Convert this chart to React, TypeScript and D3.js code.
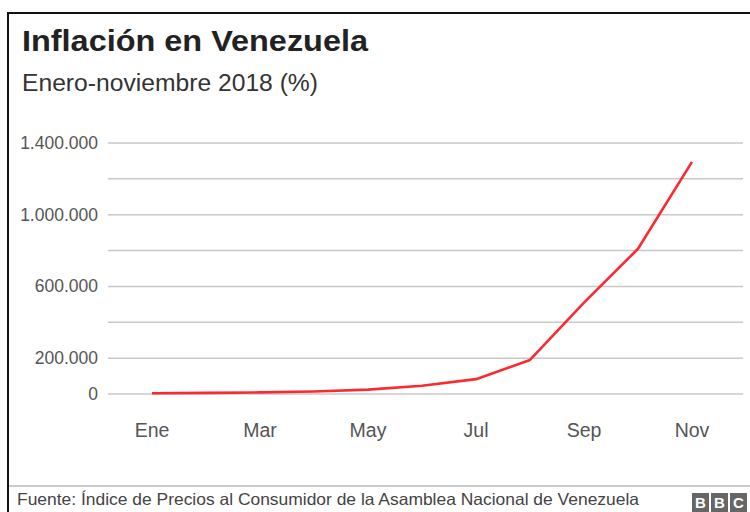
import React from "react";
import * as d3 from "d3";

const months = ["Ene", "Feb", "Mar", "Abr", "May", "Jun", "Jul", "Ago", "Sep", "Oct", "Nov"];
const inflation = [4068, 6147, 8878, 13779, 24571, 46305, 82766, 190000, 510000, 810000, 1295000];
const tickLabels = ["Ene", "Mar", "May", "Jul", "Sep", "Nov"];
const yGrid = [0, 200000, 400000, 600000, 800000, 1000000, 1200000, 1400000];
const yLabeled = [0, 200000, 600000, 1000000, 1400000];

const title = "Inflación en Venezuela";
const subtitle = "Enero-noviembre 2018 (%)";
const source = "Fuente: Índice de Precios al Consumidor de la Asamblea Nacional de Venezuela";

const W = 750;
const H = 512;
const FONT = "'Liberation Sans', Arial, Helvetica, sans-serif";

export default function App() {
  const x = d3.scalePoint<string>().domain(months).range([152, 692]);
  const y = d3.scaleLinear().domain([0, 1400000]).range([394, 143]);
  const fmt = (v: number) => d3.format(",")(v).replace(/,/g, ".");
  const line = d3
    .line<number>()
    .x((_, i) => x(months[i]) as number)
    .y((d) => y(d));

  return (
    <div style={{ position: "absolute", left: 0, top: 0, width: W, height: H, background: "#fff" }}>
      <svg width={W} height={H} style={{ display: "block", fontFamily: FONT }}>
        <rect x={0} y={0} width={W} height={H} fill="#fff" />
        {/* frame */}
        <line x1={8} x2={W} y1={13} y2={13} stroke="#111" strokeWidth={2} />
        <line x1={8} x2={8} y1={12} y2={H} stroke="#111" strokeWidth={2} />

        <text x={22} y={51} fontSize={30} fontWeight="bold" fill="#222" textLength={346} lengthAdjust="spacingAndGlyphs">
          {title}
        </text>
        <text x={22} y={91} fontSize={23} fill="#333" textLength={296} lengthAdjust="spacingAndGlyphs">
          {subtitle}
        </text>

        {/* grid */}
        {yGrid.map((v) => (
          <line key={v} x1={108} x2={743} y1={y(v)} y2={y(v)} stroke="#c8c8c8" strokeWidth={1.5} />
        ))}
        {yLabeled.map((v) => (
          <text key={v} x={98} y={y(v) + 6} fontSize={17.5} fill="#555" textAnchor="end">
            {fmt(v)}
          </text>
        ))}
        {tickLabels.map((m) => (
          <text key={m} x={x(m)} y={437} fontSize={19.5} fill="#555" textAnchor="middle">
            {m}
          </text>
        ))}

        <path d={line(inflation) || ""} fill="none" stroke="#fa2a30" strokeWidth={2.6} strokeLinejoin="round" />

        {/* footer */}
        <line x1={9} x2={W} y1={486} y2={486} stroke="#bbb" strokeWidth={1.5} />
        <text x={17} y={505} fontSize={16.5} fill="#444" textLength={622} lengthAdjust="spacingAndGlyphs">
          {source}
        </text>
        {["B", "B", "C"].map((c, i) => (
          <g key={i}>
            <rect x={692 + i * 19} y={493} width={17} height={19} fill="#666" />
            <text x={692 + i * 19 + 8.5} y={508} fontSize={15} fontWeight="bold" fill="#fff" textAnchor="middle">
              {c}
            </text>
          </g>
        ))}
      </svg>
    </div>
  );
}
